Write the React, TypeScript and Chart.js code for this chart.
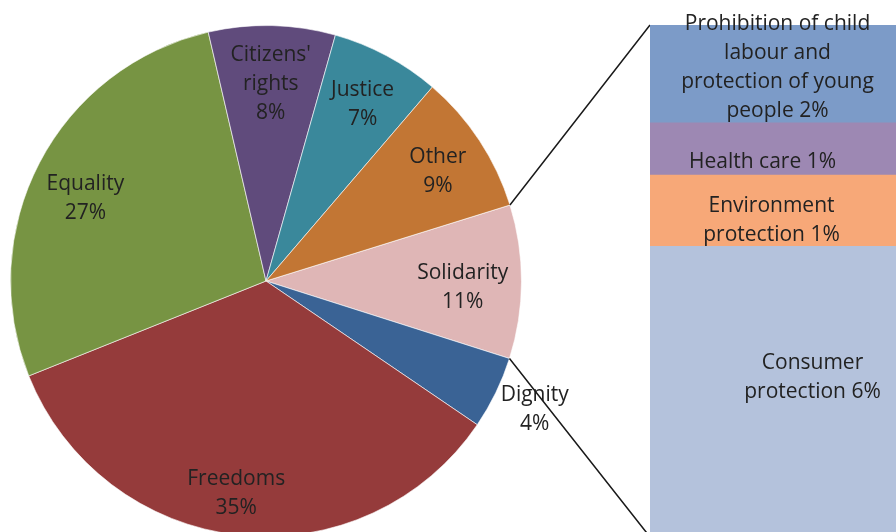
import React, { useEffect, useRef } from "react";
import { Chart, registerables } from "chart.js";
Chart.register(...registerables);

// ---- data ----
const pieCategories = ["Solidarity", "Dignity", "Freedoms", "Equality", "Citizens'\nrights", "Justice", "Other"];
const pieValues = [9.7, 4.6, 34.4, 27.4, 8.0, 6.9, 8.9];
const pieLabelPercents = [11, 4, 35, 27, 8, 7, 9];
const pieColors = ["#DFB6B6", "#3A6395", "#953B3B", "#779443", "#604B7C", "#3A889B", "#C27634"];

const barCategories = [
  "Prohibition of child\nlabour and\nprotection of young\npeople",
  "Health care",
  "Environment\nprotection",
  "Consumer\nprotection",
];
const barValues = [1.84, 0.99, 1.35, 5.52];
const barLabelPercents = [2, 1, 1, 6];
const barColors = ["#7C9BC8", "#9D88B3", "#F7A878", "#B4C2DC"];

// ---- layout ----
const CW = 1000;
const CH = 560;
const FONT = "21px 'Open Sans'";
const TEXT = "#222222";
const LINE_H = 29;
const TEXT_DY = 4;

export default function App() {
  const pieRef = useRef<HTMLCanvasElement | null>(null);
  const barRef = useRef<HTMLCanvasElement | null>(null);

  useEffect(() => {
    const barTotal = barValues.reduce((a, b) => a + b, 0);
    const barOffsets = [
      [-10, -6],
      [-25, 14],
      [-16, 11],
      [25, -14],
    ];

    const barLabelPlugin = {
      id: "barLabels",
      afterDatasetsDraw(chart: any) {
        const ctx = chart.ctx;
        ctx.save();
        ctx.font = FONT;
        ctx.fillStyle = TEXT;
        ctx.textAlign = "center";
        ctx.textBaseline = "middle";
        barCategories.forEach((cat, i) => {
          const el = chart.getDatasetMeta(i).data[0] as any;
          if (!el) return;
          const lines = cat.split("\n");
          lines[lines.length - 1] += " " + barLabelPercents[i] + "%";
          const cx = el.x + barOffsets[i][0];
          const cy = (el.y + el.base) / 2 + barOffsets[i][1];
          const y0 = cy - ((lines.length - 1) * LINE_H) / 2;
          lines.forEach((ln, k) => ctx.fillText(ln, cx, y0 + k * LINE_H));
        });
        ctx.restore();
      },
    };

    const barChart = new Chart(barRef.current as HTMLCanvasElement, {
      type: "bar",
      data: {
        labels: [""],
        datasets: barCategories.map((c, i) => ({
          label: c,
          data: [barValues[i]],
          backgroundColor: barColors[i],
          borderWidth: 0,
          barPercentage: 1,
          categoryPercentage: 1,
        })),
      },
      options: {
        responsive: false,
        animation: false,
        layout: { padding: { left: 650, top: 25, right: CW - 925, bottom: CH - 537 } },
        scales: {
          x: { display: false, stacked: true },
          y: { display: false, stacked: true, reverse: true, min: 0, max: barTotal },
        },
        plugins: { legend: { display: false }, tooltip: { enabled: false } },
      },
      plugins: [barLabelPlugin],
    } as any);

    // label placement: [radius fraction, angle offset in degrees]
    const labelPlace = [
      [0.77, 0.5],
      [1.16, -1.0],
      [0.826, 1.9],
      [0.783, -2.1],
      [0.787, 0],
      [0.8, 0],
      [0.805, 0],
    ];

    const pieLabelPlugin = {
      id: "pieLabels",
      afterDatasetsDraw(chart: any) {
        const ctx = chart.ctx;
        const arcs = chart.getDatasetMeta(0).data as any[];
        ctx.save();
        ctx.font = FONT;
        ctx.fillStyle = TEXT;
        ctx.textAlign = "center";
        ctx.textBaseline = "middle";
        arcs.forEach((arc, i) => {
          const mid = (arc.startAngle + arc.endAngle) / 2 + (labelPlace[i][1] * Math.PI) / 180;
          const r = arc.outerRadius * labelPlace[i][0];
          const x = arc.x + Math.cos(mid) * r;
          const y = arc.y + Math.sin(mid) * r + TEXT_DY;
          const lines = pieCategories[i].split("\n").concat([pieLabelPercents[i] + "%"]);
          const y0 = y - ((lines.length - 1) * LINE_H) / 2;
          lines.forEach((ln, k) => ctx.fillText(ln, x, y0 + k * LINE_H));
        });
        // connector lines from the split slice to the bar
        const sol = arcs[0];
        const topBar = barChart.getDatasetMeta(0).data[0] as any;
        const botBar = barChart.getDatasetMeta(barCategories.length - 1).data[0] as any;
        if (sol && topBar && botBar) {
          const left = topBar.x - topBar.width / 2;
          const top = Math.min(topBar.y, topBar.base);
          const bottom = Math.max(botBar.y, botBar.base);
          ctx.strokeStyle = "#1a1a1a";
          ctx.lineWidth = 1.5;
          ctx.beginPath();
          ctx.moveTo(sol.x + Math.cos(sol.startAngle) * sol.outerRadius, sol.y + Math.sin(sol.startAngle) * sol.outerRadius);
          ctx.lineTo(left, top);
          ctx.moveTo(sol.x + Math.cos(sol.endAngle) * sol.outerRadius, sol.y + Math.sin(sol.endAngle) * sol.outerRadius);
          ctx.lineTo(left, bottom);
          ctx.stroke();
        }
        ctx.restore();
      },
    };

    const pieChart = new Chart(pieRef.current as HTMLCanvasElement, {
      type: "pie",
      data: {
        labels: pieCategories,
        datasets: [
          {
            data: pieValues,
            backgroundColor: pieColors,
            borderColor: "rgba(255,255,255,0.6)",
            borderWidth: 1,
          },
        ],
      },
      options: {
        responsive: false,
        animation: false,
        rotation: 72.7,
        layout: { padding: { left: 10, top: 25, right: CW - 522, bottom: CH - 537 } },
        plugins: { legend: { display: false }, tooltip: { enabled: false } },
      },
      plugins: [pieLabelPlugin],
    } as any);

    return () => {
      pieChart.destroy();
      barChart.destroy();
    };
  }, []);

  return (
    <div
      style={{
        position: "absolute",
        left: 0,
        top: 0,
        width: 896,
        height: 532,
        overflow: "hidden",
        background: "#ffffff",
      }}
    >
      <canvas ref={pieRef} width={CW} height={CH} style={{ position: "absolute", left: 0, top: 0 }} />
      <canvas ref={barRef} width={CW} height={CH} style={{ position: "absolute", left: 0, top: 0 }} />
    </div>
  );
}
